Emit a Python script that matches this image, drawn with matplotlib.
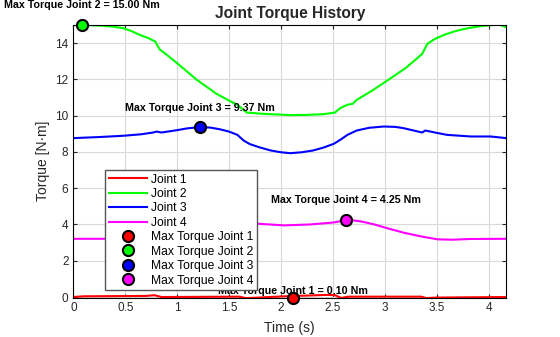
import matplotlib
matplotlib.use("Agg")
import matplotlib.pyplot as plt

plt.rcParams['font.family'] = ['Liberation Sans', 'DejaVu Sans']

# --- data ---
t1 = [0, 0.1, 0.7, 0.78, 0.85, 1.6, 1.66, 1.75, 2.0, 2.45, 2.52, 2.58, 2.65, 3.35, 3.4, 3.5, 4.17]
j1 = [0.0, 0.04, 0.06, 0.1, 0.0, 0.02, -0.06, -0.04, 0.03, 0.12, 0.1, -0.05, 0.02, 0.02, -0.06, -0.03, 0.0]

t2 = [0, 0.09, 0.18, 0.29, 0.4, 0.48, 0.56, 0.64, 0.72, 0.79, 0.83, 0.9, 1.0, 1.19, 1.38, 1.5, 1.58, 1.67,
      1.8, 1.9, 2.09, 2.25, 2.41, 2.52, 2.57, 2.64, 2.69, 2.73, 2.87, 3.01, 3.2, 3.36, 3.41,
      3.48, 3.57, 3.68, 3.80, 3.92, 4.05, 4.11, 4.17]
j2 = [15.0, 15.0, 14.98, 14.95, 14.89, 14.82, 14.66, 14.45, 14.28, 14.08, 13.66, 13.35, 12.89, 11.97, 11.2,
      10.83, 10.6, 10.17, 10.11, 10.08, 10.03, 10.04, 10.08, 10.17, 10.41, 10.6, 10.65, 10.87, 11.35,
      11.88, 12.62, 13.4, 13.96, 14.22, 14.45, 14.66, 14.82, 14.93, 15.0, 15.0, 14.87]

t3 = [0, 0.25, 0.48, 0.65, 0.77, 0.80, 0.85, 1.0, 1.1, 1.22, 1.32, 1.41, 1.5, 1.58, 1.64, 1.70, 1.80,
      1.90, 2.0, 2.09, 2.2, 2.31, 2.41, 2.51, 2.58, 2.64, 2.73, 2.85, 2.99, 3.1, 3.18, 3.36, 3.39,
      3.5, 3.60, 3.83, 4.02, 4.17]
j3 = [8.76, 8.82, 8.89, 8.97, 9.07, 9.12, 9.07, 9.2, 9.3, 9.37, 9.34, 9.25, 9.12, 8.94, 8.63, 8.43, 8.24,
      8.08, 7.98, 7.93, 7.98, 8.08, 8.24, 8.45, 8.7, 8.94, 9.18, 9.33, 9.4, 9.38, 9.31, 9.07, 9.18,
      9.05, 8.94, 8.85, 8.85, 8.76]

t4 = [0, 0.3, 0.6, 1.0, 1.4, 1.78, 2.03, 2.28, 2.51, 2.64, 2.77, 2.9, 3.02, 3.18, 3.35, 3.51, 3.65,
      3.83, 4.17]
j4 = [3.21, 3.21, 3.3, 3.55, 3.85, 4.04, 3.95, 4.0, 4.11, 4.26, 4.17, 4.0, 3.8, 3.55, 3.34, 3.18, 3.16,
      3.2, 3.21]

peak_t = [2.12, 0.08, 1.22, 2.63]
peak_y = [-0.06, 15.0, 9.37, 4.25]
peak_val = [0.10, 15.00, 9.37, 4.25]

colors = ['#ff0000', '#00ff00', '#0000ff', '#ff00ff']
label_dy = [0.41, 1.1, 1.04, 1.1]

# --- figure ---
fig = plt.figure(figsize=(5.6, 3.37), dpi=100)
ax = fig.add_axes([0.131, 0.117, 0.773, 0.809])

series = [(t1, j1), (t2, j2), (t3, j3), (t4, j4)]
for i, (t, j) in enumerate(series):
    ax.plot(t, j, color=colors[i], linewidth=1.5, label=f'Joint {i+1}')

for i in range(4):
    ax.plot(peak_t[i], peak_y[i], 'o', color=colors[i], markersize=8,
            markeredgecolor='black', markeredgewidth=1.5, clip_on=False,
            label=f'Max Torque Joint {i+1}', zorder=5)
    ax.text(peak_t[i], peak_y[i] + label_dy[i], f'Max Torque Joint {i+1} = {peak_val[i]:.2f} Nm',
            ha='center', va='center', fontsize=7.7, fontweight='bold', clip_on=False)

ax.set_xlim(0, 4.17)
ax.set_ylim(-0.03, 15.0)
ax.set_xticks([0, 0.5, 1, 1.5, 2, 2.5, 3, 3.5, 4])
ax.set_xticklabels(['0', '0.5', '1', '1.5', '2', '2.5', '3', '3.5', '4'])
ax.set_yticks([0, 2, 4, 6, 8, 10, 12, 14])

ax.grid(True, color='#d9d9d9', linewidth=0.8)
ax.set_axisbelow(True)
ax.tick_params(direction='in', top=True, right=True, labelsize=8.5, colors='#262626',
               length=3)
for s in ax.spines.values():
    s.set_linewidth(0.8)
    s.set_color('black')

ax.set_xlabel('Time (s)', fontsize=10, color='#262626', labelpad=5)
ax.set_ylabel('Torque [N·m]', fontsize=10, color='#262626', labelpad=4)
ax.set_title('Joint Torque History', fontsize=11.2, fontweight='bold', color='#262626', pad=5)

leg = ax.legend(loc='upper left', bbox_to_anchor=(0.073, 0.468), fontsize=8.7,
                frameon=True, fancybox=False, edgecolor='#555555', framealpha=1,
                handlelength=3.2, handletextpad=0.35, labelspacing=0.2,
                borderpad=0.3, borderaxespad=0, numpoints=1)
leg.get_frame().set_linewidth(1.0)
leg.set_zorder(10)

fig.savefig('out.png', dpi=100)
